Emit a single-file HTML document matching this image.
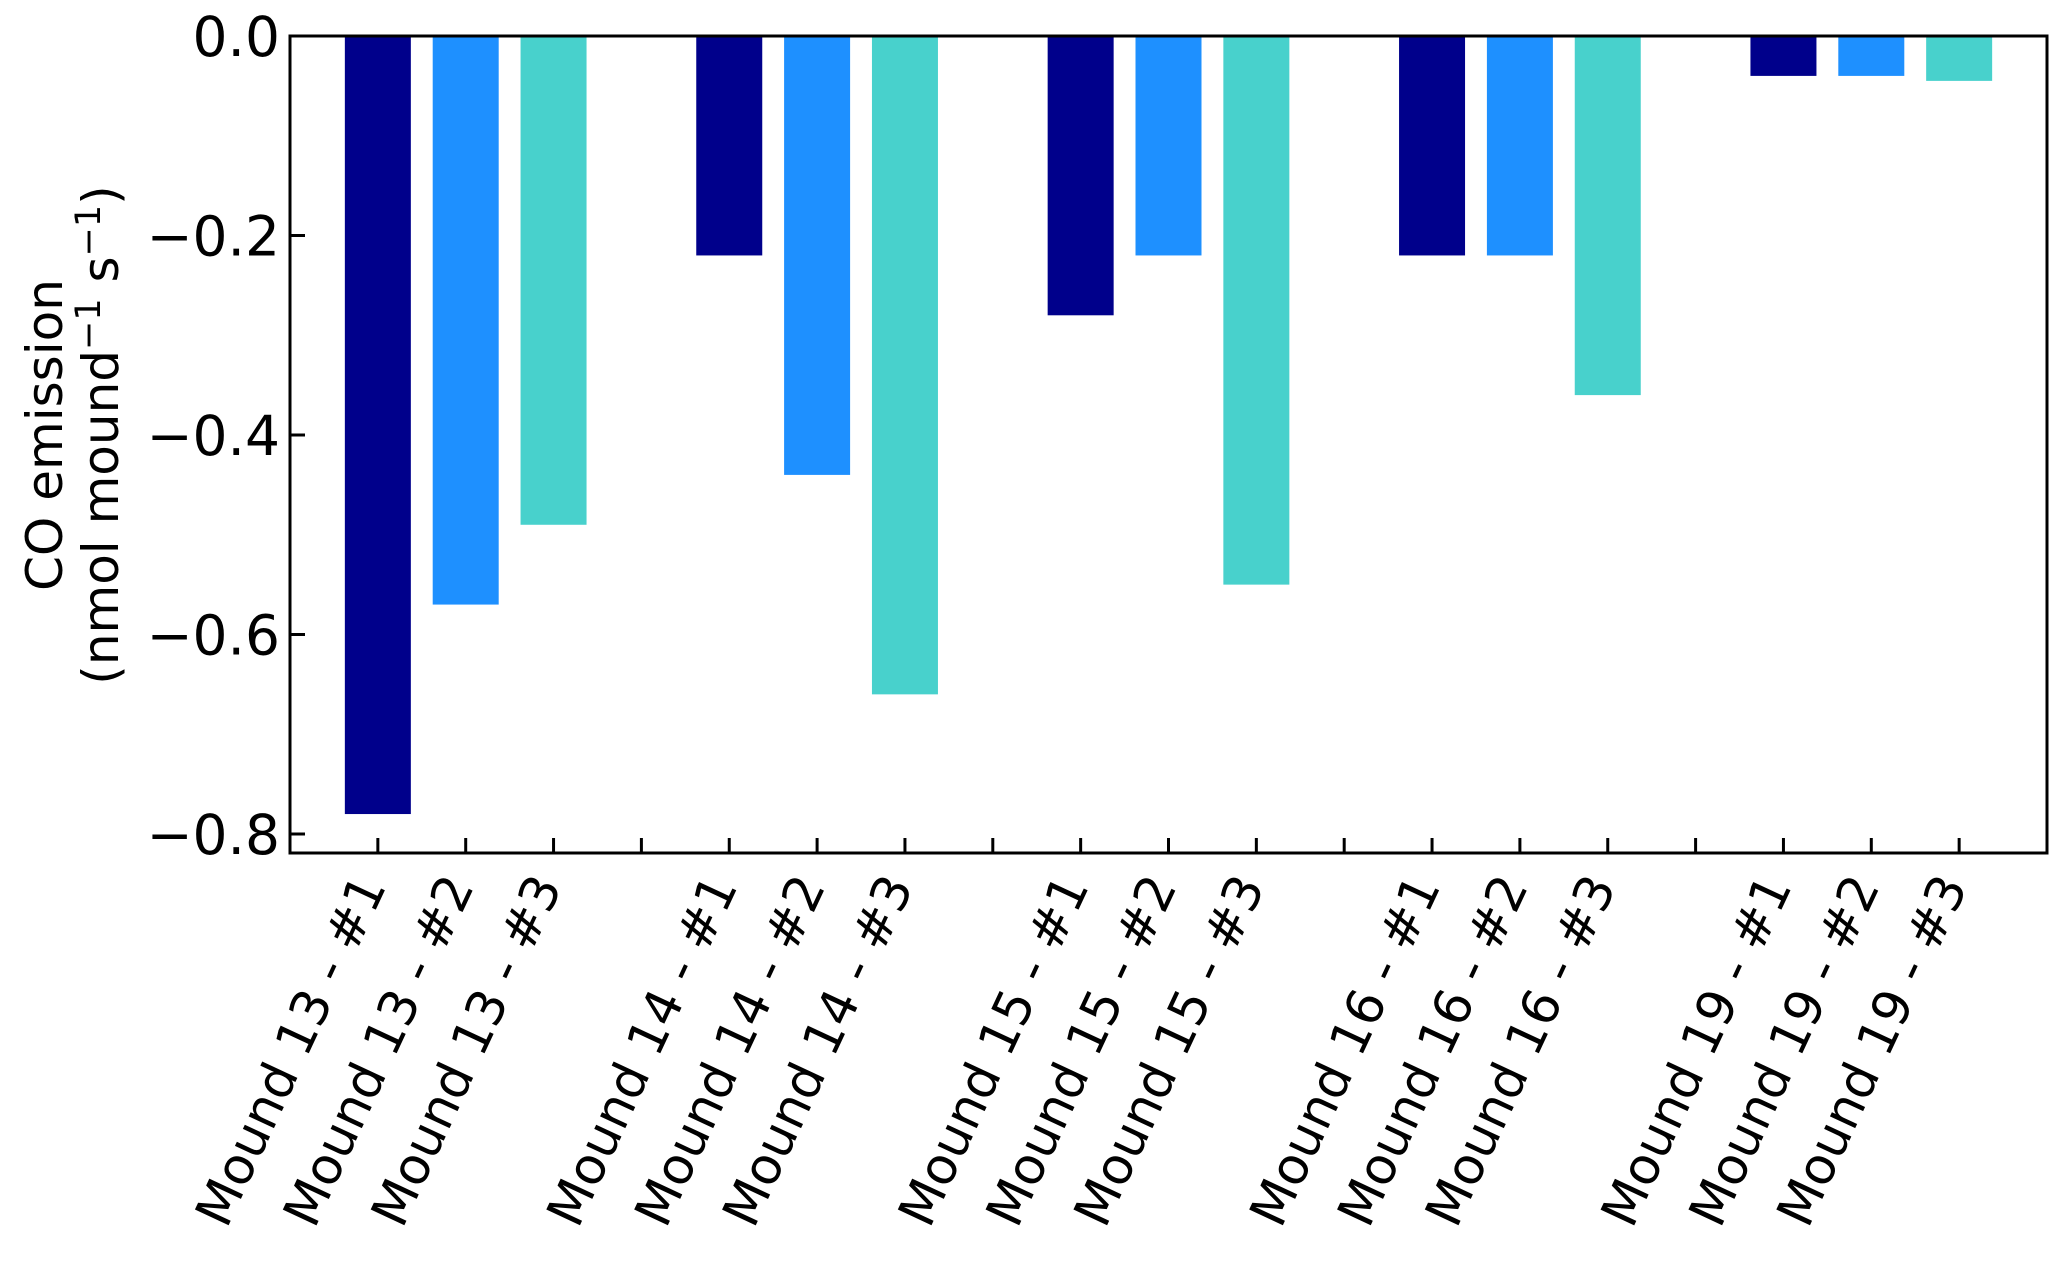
<!DOCTYPE html>
<html><head><meta charset="utf-8"><style>
body{margin:0;background:#fff;}
svg text{font-family:"DejaVu Sans","Liberation Sans",sans-serif;fill:#000;}
</style></head><body>
<svg id="chart" width="2067" height="1263" viewBox="0 0 2067 1263" xmlns="http://www.w3.org/2000/svg"></svg>
<script>
const categories = ["Mound 13 - #1","Mound 13 - #2","Mound 13 - #3","Mound 14 - #1","Mound 14 - #2","Mound 14 - #3","Mound 15 - #1","Mound 15 - #2","Mound 15 - #3","Mound 16 - #1","Mound 16 - #2","Mound 16 - #3","Mound 19 - #1","Mound 19 - #2","Mound 19 - #3"];
const positions = [0,1,2,4,5,6,8,9,10,12,13,14,16,17,18];
const values = [-0.78,-0.57,-0.49,-0.22,-0.44,-0.66,-0.28,-0.22,-0.55,-0.22,-0.22,-0.36,-0.04,-0.04,-0.045];
const replicateColors = ["#00008b","#1e90ff","#48d1cc"];
const yTicks = [0.0,-0.2,-0.4,-0.6,-0.8];
const yTickLabels = ["0.0","\u22120.2","\u22120.4","\u22120.6","\u22120.8"];

const NS="http://www.w3.org/2000/svg";
const svg=document.getElementById('chart');
const L=290,R=2047,T=36,B=853;
const xMin=-1,xMax=19;
const x=v=>L+(v-xMin)/(xMax-xMin)*(R-L);
const y=v=>T+(0-v)/0.8*(834-T);
const bw=66;
function mk(tag,attrs){const e=document.createElementNS(NS,tag);for(const k in attrs)e.setAttribute(k,attrs[k]);svg.appendChild(e);return e;}

values.forEach((v,i)=>{
  const r=mk('rect',{x:x(positions[i])-bw/2,y:y(0),width:bw,height:y(v)-y(0),fill:replicateColors[i%3]});
  
  
});

for(let p=0;p<=18;p++){
  const t=mk('line',{x1:x(p),x2:x(p),y1:B,y2:B-15,stroke:'#000','stroke-width':3});
  
  
}
categories.forEach((c,i)=>{
  const px=x(positions[i])+9,py=886;
  const t=mk('text',{x:px,y:py,'font-size':51,'text-anchor':'end',transform:`rotate(-65 ${px} ${py})`});
  t.textContent=c;
  
  
});
yTicks.forEach((v,i)=>{
  const t=mk('line',{x1:L,x2:L+15,y1:y(v),y2:y(v),stroke:'#000','stroke-width':3});
  
  
  const l=mk('text',{x:L-10,y:y(v)+20,'font-size':55,'text-anchor':'end'});
  l.textContent=yTickLabels[i];
  
  
});
const frame=mk('rect',{x:L,y:T,width:R-L,height:B-T,fill:'none',stroke:'#000','stroke-width':3});



const yl=mk('text',{transform:'translate(0 435) rotate(-90)','font-size':50,'text-anchor':'middle'});


yl.innerHTML='<tspan x="0" y="62">CO emission</tspan><tspan x="0" y="118">(nmol mound<tspan dy="-18" font-size="35">\u22121</tspan><tspan dy="18"> s</tspan><tspan dy="-18" font-size="35">\u22121</tspan><tspan dy="18">)</tspan></tspan>';
</script>
</body></html>
